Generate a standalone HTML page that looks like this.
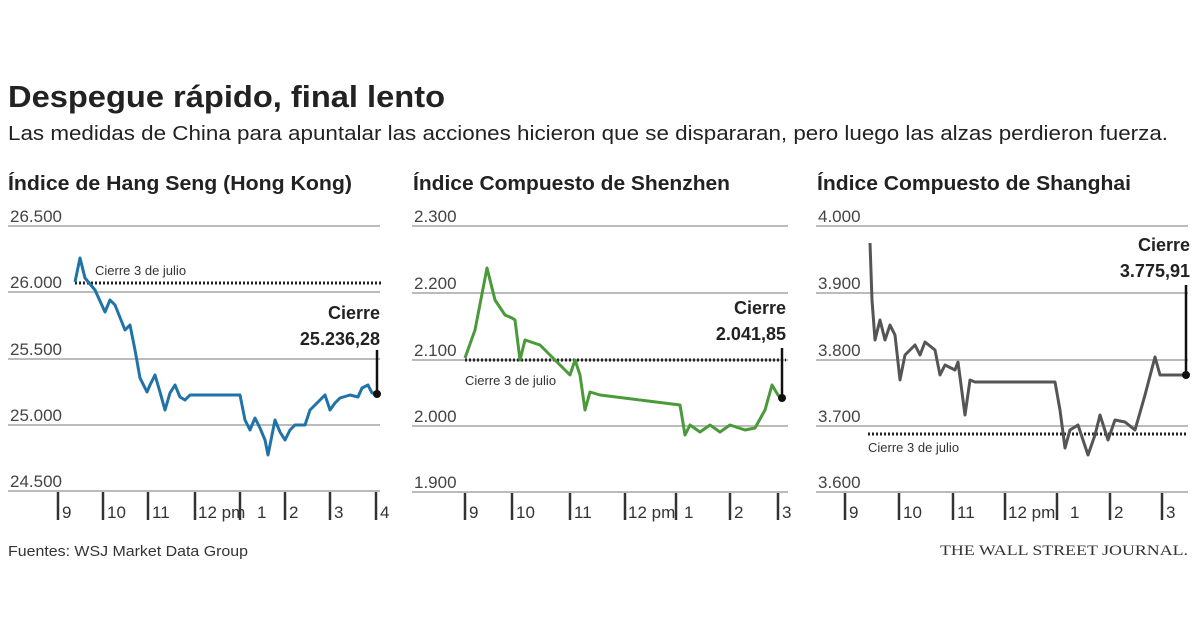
<!DOCTYPE html>
<html><head><meta charset="utf-8"><style>body{margin:0;background:#fff}svg{display:block}</style></head>
<body>
<svg width="1200" height="630" xmlns="http://www.w3.org/2000/svg" font-family="Liberation Sans, sans-serif">
<rect width="1200" height="630" fill="#fff"/>
<text x="8" y="107" font-size="31" font-weight="bold" fill="#222" textLength="437" lengthAdjust="spacingAndGlyphs">Despegue rápido, final lento</text>
<text x="8" y="140" font-size="20" fill="#222" textLength="1160" lengthAdjust="spacingAndGlyphs">Las medidas de China para apuntalar las acciones hicieron que se dispararan, pero luego las alzas perdieron fuerza.</text>
<g font-size="20" font-weight="bold" fill="#222">
<text x="8" y="190" textLength="344" lengthAdjust="spacingAndGlyphs">Índice de Hang Seng (Hong Kong)</text>
<text x="413" y="190" textLength="317" lengthAdjust="spacingAndGlyphs">Índice Compuesto de Shenzhen</text>
<text x="817" y="190" textLength="314" lengthAdjust="spacingAndGlyphs">Índice Compuesto de Shanghai</text>
</g>
<g stroke="#bbb" stroke-width="2">
<line x1="8" y1="226" x2="380" y2="226"/><line x1="8" y1="292" x2="380" y2="292"/><line x1="8" y1="359" x2="380" y2="359"/><line x1="8" y1="425" x2="380" y2="425"/><line x1="8" y1="491" x2="380" y2="491"/>
<line x1="412" y1="226" x2="788" y2="226"/><line x1="412" y1="293" x2="788" y2="293"/><line x1="412" y1="360" x2="788" y2="360"/><line x1="412" y1="426" x2="788" y2="426"/><line x1="412" y1="492" x2="788" y2="492"/>
<line x1="816" y1="226" x2="1188" y2="226"/><line x1="816" y1="293" x2="1188" y2="293"/><line x1="816" y1="360" x2="1188" y2="360"/><line x1="816" y1="426" x2="1188" y2="426"/><line x1="816" y1="492" x2="1188" y2="492"/>
</g>
<g font-size="17" fill="#444">
<text x="10" y="222">26.500</text><text x="10" y="288">26.000</text><text x="10" y="355">25.500</text><text x="10" y="421">25.000</text><text x="10" y="487">24.500</text>
<text x="414" y="222">2.300</text><text x="414" y="289">2.200</text><text x="414" y="356">2.100</text><text x="414" y="422">2.000</text><text x="414" y="488">1.900</text>
<text x="818" y="222">4.000</text><text x="818" y="289">3.900</text><text x="818" y="356">3.800</text><text x="818" y="422">3.700</text><text x="818" y="488">3.600</text>
</g>
<g stroke="#333" stroke-width="2.5">
<line x1="58" y1="492" x2="58" y2="520"/><line x1="103" y1="492" x2="103" y2="520"/><line x1="148" y1="492" x2="148" y2="520"/><line x1="195" y1="492" x2="195" y2="520"/><line x1="240" y1="492" x2="240" y2="520"/><line x1="285" y1="492" x2="285" y2="520"/><line x1="330" y1="492" x2="330" y2="520"/><line x1="376" y1="492" x2="376" y2="520"/>
<line x1="465" y1="493" x2="465" y2="520"/><line x1="512" y1="493" x2="512" y2="520"/><line x1="570" y1="493" x2="570" y2="520"/><line x1="625" y1="493" x2="625" y2="520"/><line x1="676" y1="493" x2="676" y2="520"/><line x1="730" y1="493" x2="730" y2="520"/><line x1="778" y1="493" x2="778" y2="520"/>
<line x1="845" y1="493" x2="845" y2="520"/><line x1="899" y1="493" x2="899" y2="520"/><line x1="953" y1="493" x2="953" y2="520"/><line x1="1005" y1="493" x2="1005" y2="520"/><line x1="1057" y1="493" x2="1057" y2="520"/><line x1="1110" y1="493" x2="1110" y2="520"/><line x1="1162" y1="493" x2="1162" y2="520"/>
</g>
<g font-size="17" fill="#333">
<text x="62" y="518">9</text><text x="107" y="518">10</text><text x="152" y="518">11</text><text x="198" y="518">12 pm</text><text x="257" y="518">1</text><text x="289" y="518">2</text><text x="334" y="518">3</text><text x="380" y="518">4</text>
<text x="469" y="518">9</text><text x="516" y="518">10</text><text x="574" y="518">11</text><text x="628" y="518">12 pm</text><text x="684" y="518">1</text><text x="734" y="518">2</text><text x="782" y="518">3</text>
<text x="849" y="518">9</text><text x="903" y="518">10</text><text x="957" y="518">11</text><text x="1008" y="518">12 pm</text><text x="1070" y="518">1</text><text x="1114" y="518">2</text><text x="1166" y="518">3</text>
</g>
<g stroke="#222" stroke-width="3" stroke-dasharray="2,2">
<line x1="75" y1="283" x2="382" y2="283"/><line x1="465" y1="360" x2="786" y2="360"/><line x1="868" y1="434" x2="1188" y2="434"/>
</g>
<g font-size="13" fill="#333">
<text x="95" y="275">Cierre 3 de julio</text><text x="465" y="385">Cierre 3 de julio</text><text x="868" y="452">Cierre 3 de julio</text>
</g>
<polyline fill="none" stroke="#1f73a8" stroke-width="3" stroke-linejoin="round" points="75,282 80,258 85,278 95,290 105,312 110,300 115,305 125,330 130,325 135,350 140,378 147,392 150,385 155,375 160,392 165,410 170,393 175,385 180,397 185,400 190,395 240,395 245,420 250,430 255,418 260,428 265,440 268,455 272,435 275,420 280,432 285,440 290,430 295,425 305,425 310,410 315,405 320,400 325,395 330,410 335,403 340,398 350,395 358,397 362,388 368,385 372,393 376,393"/>
<polyline fill="none" stroke="#4a9a3a" stroke-width="3" stroke-linejoin="round" points="465,358 475,330 487,268 495,300 505,315 512,318 515,320 520,360 525,340 540,345 550,355 560,365 570,375 575,360 580,375 585,410 590,392 600,395 680,405 685,435 690,425 700,432 710,425 720,432 730,425 745,430 755,428 765,410 772,385 778,395 782,398"/>
<polyline fill="none" stroke="#555" stroke-width="3" stroke-linejoin="round" points="870,243 872,300 875,340 880,320 885,340 890,325 895,335 900,380 905,355 910,350 915,345 920,355 925,342 935,350 940,375 945,365 955,370 958,362 965,415 970,380 975,382 1055,382 1060,410 1065,448 1070,430 1078,425 1088,455 1095,435 1100,415 1108,440 1115,420 1125,422 1135,430 1145,395 1155,357 1160,375 1185,375"/>
<g stroke="#111" stroke-width="2.5">
<line x1="377" y1="350" x2="377" y2="394"/><line x1="782" y1="348" x2="782" y2="398"/><line x1="1186" y1="285" x2="1186" y2="375"/>
</g>
<circle cx="377" cy="394" r="4" fill="#111"/><circle cx="782" cy="398" r="4" fill="#111"/><circle cx="1186" cy="375" r="4" fill="#111"/>
<g font-size="18" font-weight="bold" fill="#222" text-anchor="end">
<text x="380" y="319">Cierre</text><text x="380" y="345">25.236,28</text>
<text x="786" y="314">Cierre</text><text x="786" y="340">2.041,85</text>
<text x="1190" y="251">Cierre</text><text x="1190" y="277">3.775,91</text>
</g>
<text x="8" y="556" font-size="15" fill="#333" textLength="240" lengthAdjust="spacingAndGlyphs">Fuentes: WSJ Market Data Group</text>
<text x="940" y="555" font-family="Liberation Serif, serif" font-size="15" fill="#333" textLength="248" lengthAdjust="spacingAndGlyphs">THE WALL STREET JOURNAL.</text>
</svg>
</body></html>
